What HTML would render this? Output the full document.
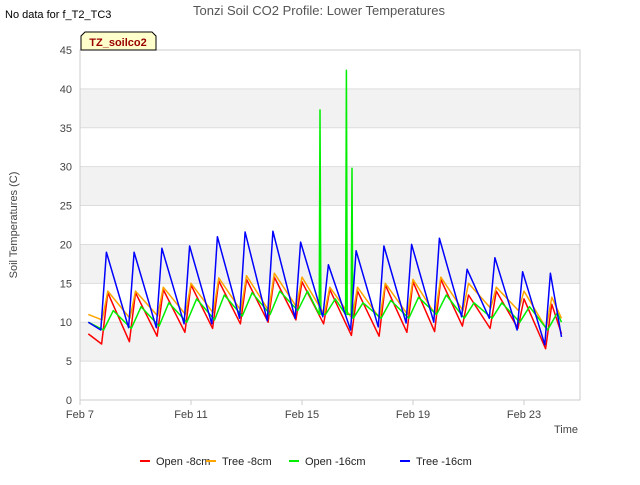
<!DOCTYPE html>
<html><head><meta charset="utf-8"><style>
body{margin:0;background:#fff;font-family:"Liberation Sans",sans-serif}
</style></head><body>
<svg width="640" height="480" xmlns="http://www.w3.org/2000/svg" font-family="Liberation Sans, sans-serif">
<rect width="640" height="480" fill="#fff"/>
<g id="bands"></g><g id="grid"></g>
<rect x="80" y="50" width="500" height="350" fill="none" stroke="#ccc"/>
<g id="xt"></g><g id="yt"></g><g id="series"></g>
<text x="5" y="18" font-size="11" fill="#000">No data for f_T2_TC3</text>
<text x="319" y="15" font-size="13" fill="#555" text-anchor="middle">Tonzi Soil CO2 Profile: Lower Temperatures</text>
<path d="M81,50 V36 l4,-4 H152 l4,4 V50 Z" fill="#ffffcc" stroke="#000"/>
<text x="118" y="46" font-size="11" font-weight="bold" fill="#990000" text-anchor="middle">TZ_soilco2</text>
<text x="17" y="225" font-size="11" fill="#444" text-anchor="middle" transform="rotate(-90 17 225)">Soil Temperatures (C)</text>
<text x="578" y="433" font-size="11" fill="#444" text-anchor="end">Time</text>
<g id="legend"></g>
</svg>
<script>
const NS="http://www.w3.org/2000/svg";
const xTickLabels=["Feb 7","Feb 11","Feb 15","Feb 19","Feb 23"];
const xTickDays=[0,4,8,12,16];
const yTicks=[0,5,10,15,20,25,30,35,40,45];
const seriesNames=["Open -8cm","Tree -8cm","Open -16cm","Tree -16cm"];
const colors=["#ff0000","#ffa500","#00ee00","#0000ff"];
const openShallowTrough=[7.2,7.5,8.2,8.7,9.2,9.8,10,10.3,9.8,8.3,8.2,8.7,8.8,9.5,9.2,9.2,6.6];
const openShallowPeak=[13.8,13.8,14.2,14.8,15.3,15.5,15.8,15.2,14.2,14,14.8,15.2,15.5,13.5,14,13,12.3];
const treeShallowTrough=[10.3,10.5,10.8,11,11.2,11.5,11.5,12,11,10.5,10.5,11,11,11.5,11.8,11.5,9.2];
const treeShallowPeak=[14,14,14.5,15,15.7,16,16.3,15.8,14.5,14.5,15,15.5,15.8,15,14.5,14,13.2];
const openDeepTrough=[9,9.2,9.5,10,10.3,10.8,11,11.5,11,10.5,10.5,10.5,11,10.5,10.5,10,9];
const openDeepPeak=[11.5,12,12.5,13,13.5,13.8,14,14,13,12.5,12.8,13.2,13.5,12.5,12.5,12,11.2];
const treeDeepTrough=[9,9.3,9.3,9.8,9.8,10.5,10.2,10.5,10.7,9,9.4,9.9,10,10.7,10.5,9,7.1];
const treeDeepPeak=[19,19,19.5,19.8,21,21.6,21.7,20.3,17.4,19.2,19.8,20,20.8,16.8,18.3,16.5,16.3];
const startVals=[8.5,11,10,10];
const endVals=[8.5,10.5,10,8.1];
const spikeDays=[8.65,9.6,9.8];
const spikeVals=[37.3,42.4,29.8];
const X=d=>80+d*27.75, Y=v=>400-v*350/45;
const troughs=[openShallowTrough,treeShallowTrough,openDeepTrough,treeDeepTrough];
const peaks=[openShallowPeak,treeShallowPeak,openDeepPeak,treeDeepPeak];
const tOff=[0.78,0.8,0.85,0.75], pOff=[1.0,1.0,1.2,0.95];
function el(t,a,p){const e=document.createElementNS(NS,t);for(const k in a)e.setAttribute(k,a[k]);p.appendChild(e);return e;}
const bands=document.getElementById('bands'),grid=document.getElementById('grid');
for(let i=0;i<yTicks.length-1;i++){if(i%2===1){const r=el('rect',{x:80,y:Y(yTicks[i+1]),width:500,height:Y(yTicks[i])-Y(yTicks[i+1]),fill:'#f2f2f2'},bands);

}}
const yt=document.getElementById('yt');
yTicks.forEach(v=>{const l=el('line',{x1:80,x2:580,y1:Y(v),y2:Y(v),stroke:'#ddd'},grid);


const t=el('text',{x:72,y:Y(v)+4,'font-size':11,fill:'#444','text-anchor':'end'},yt);t.textContent=v;

});
const xt=document.getElementById('xt');
xTickDays.forEach((d,i)=>{const l=el('line',{x1:X(d),x2:X(d),y1:400,y2:405,stroke:'#ccc'},xt);


const t=el('text',{x:X(d),y:418,'font-size':11,fill:'#444','text-anchor':'middle'},xt);t.textContent=xTickLabels[i];

});
const sg=document.getElementById('series');
for(let s=0;s<4;s++){
 let pts=[[0.3,startVals[s]]];
 for(let d=0;d<troughs[s].length;d++){pts.push([d+tOff[s],troughs[s][d]]);pts.push([d+pOff[s],peaks[s][d]]);}
 pts.push([17.35,endVals[s]]);
 if(s===2){spikeDays.forEach((d,i)=>{pts.push([d-0.03,11]);pts.push([d,spikeVals[i]]);pts.push([d+0.03,11]);});pts.sort((a,b)=>a[0]-b[0]);}
 const p=el('polyline',{points:pts.map(q=>X(q[0]).toFixed(1)+','+Y(q[1]).toFixed(1)).join(' '),fill:'none',stroke:colors[s],'stroke-width':1.5,'stroke-linejoin':'round'},sg);
 
 
}
const lg=document.getElementById('legend');
const lx=[140,206,289,400];
seriesNames.forEach((n,i)=>{const l=el('line',{x1:lx[i],x2:lx[i]+10,y1:461,y2:461,stroke:colors[i],'stroke-width':2},lg);


const t=el('text',{x:lx[i]+16,y:465,'font-size':11,fill:'#222'},lg);t.textContent=n;

});
</script>
</body></html>
